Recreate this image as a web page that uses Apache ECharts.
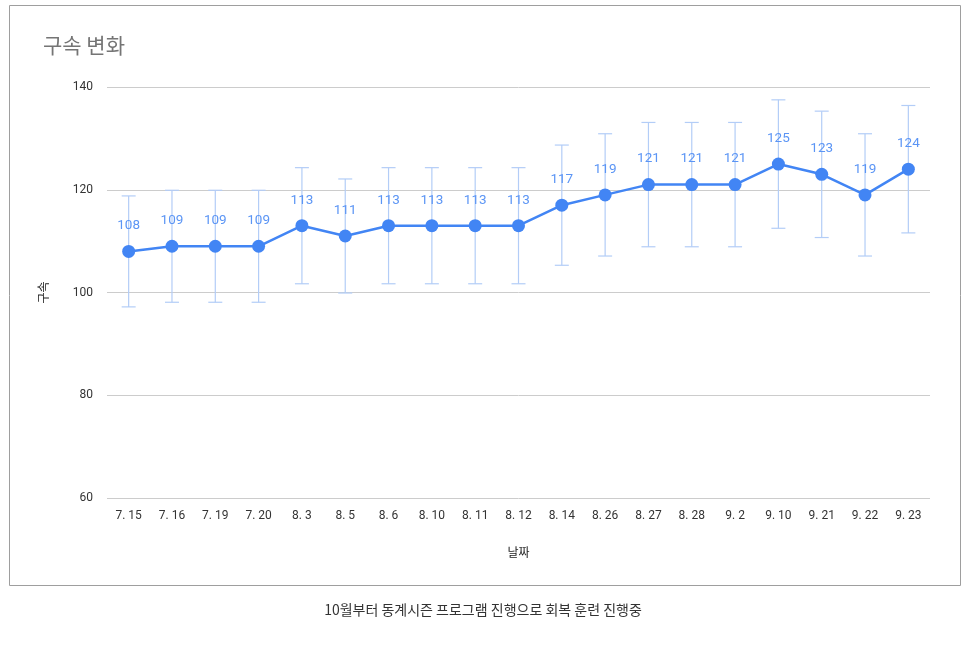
<!DOCTYPE html>
<html><head><meta charset="utf-8">
<script src="https://cdn.jsdelivr.net/npm/echarts@6/dist/echarts.min.js"></script>
<style>html,body{margin:0;padding:0;background:#fff}#c{width:966px;height:645px}</style>
</head><body><div id="c"></div>
<script>
const categories = ['7. 15','7. 16','7. 19','7. 20','8. 3','8. 5','8. 6','8. 10','8. 11','8. 12','8. 14','8. 26','8. 27','8. 28','9. 2','9. 10','9. 21','9. 22','9. 23'];
const speeds = [108,109,109,109,113,111,113,113,113,113,117,119,121,121,121,125,123,119,124];
const upper = [118.8,119.9,119.9,119.9,124.3,122.1,124.3,124.3,124.3,124.3,128.7,130.9,133.1,133.1,133.1,137.5,135.3,130.9,136.4];
const lower = [97.2,98.1,98.1,98.1,101.7,99.9,101.7,101.7,101.7,101.7,105.3,107.1,108.9,108.9,108.9,112.5,110.7,107.1,111.6];
const yTicks = [60,80,100,120,140];

const chart = echarts.init(document.getElementById('c'));
const errData = categories.map((c,i)=>[i, lower[i], upper[i]]);
chart.setOption({
  animation:false,
  title:{text:'구속 변화',left:38,top:30,textStyle:{fontFamily:'Noto Sans CJK KR',fontSize:21,fontWeight:'normal',color:'#757575'}},
  graphic:[
    {type:'rect',shape:{x:9.5,y:5.5,width:951,height:580},style:{fill:'none',stroke:'#9e9e9e',lineWidth:1},z:-1},
    {type:'text',left:'center',top:603,style:{text:'10월부터 동계시즌 프로그램 진행으로 회복 훈련 진행중',fontFamily:'Noto Sans CJK KR',fontSize:14,fill:'#333'}}
  ],
  grid:{left:107,right:36,top:87,bottom:147},
  xAxis:{type:'category',data:categories,
    axisLine:{show:false},axisTick:{show:false},
    axisLabel:{color:'#333',fontFamily:'Roboto',fontSize:12,margin:12,interval:0},
    name:'날짜',nameLocation:'middle',nameGap:48,
    nameTextStyle:{color:'#222',fontFamily:'Noto Sans CJK KR',fontSize:12}},
  yAxis:{type:'value',min:yTicks[0],max:yTicks[yTicks.length-1],interval:20,
    axisLabel:{color:'#333',fontFamily:'Roboto',fontSize:12,margin:14},
    splitLine:{lineStyle:{color:'#cccccc'}},
    name:'구속',nameLocation:'middle',nameGap:58,nameRotate:90,
    nameTextStyle:{color:'#222',fontFamily:'Noto Sans CJK KR',fontSize:12}},
  series:[
    {type:'custom',data:errData,z:1,
     renderItem:function(params,api){
       const x=api.value(0);
       const lo=api.coord([x,api.value(1)]);
       const hi=api.coord([x,api.value(2)]);
       const w=7;
       const st={stroke:'#b3cdf7',lineWidth:1.2};
       return {type:'group',children:[
         {type:'line',shape:{x1:lo[0],y1:lo[1],x2:hi[0],y2:hi[1]},style:st},
         {type:'line',shape:{x1:lo[0]-w,y1:lo[1],x2:lo[0]+w,y2:lo[1]},style:st},
         {type:'line',shape:{x1:hi[0]-w,y1:hi[1],x2:hi[0]+w,y2:hi[1]},style:st}
       ]};
     }},
    {type:'line',data:speeds,z:3,symbol:'circle',symbolSize:13,
     lineStyle:{color:'#4285f4',width:2.5},itemStyle:{color:'#4285f4'},
     label:{show:true,position:'top',distance:12,color:'#5b95f5',fontFamily:'Roboto',fontSize:13.5}}
  ]
});
</script></body></html>
